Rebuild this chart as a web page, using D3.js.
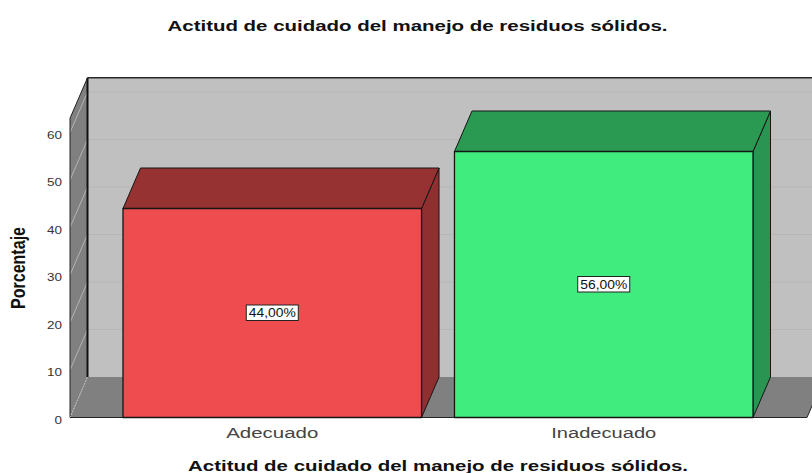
<!DOCTYPE html>
<html><head><meta charset="utf-8">
<script src="https://cdn.jsdelivr.net/npm/d3@7"></script>
<style>html,body{margin:0;padding:0;background:#fff}svg{display:block}text{font-family:"Liberation Sans",Arial,sans-serif}</style>
</head><body><div id="c"></div>
<script>
const chartTitle="Actitud de cuidado del manejo de residuos sólidos.";
const yTitle="Porcentaje";
const categories=["Adecuado","Inadecuado"];
const values=[44,56];
const valueLabels=["44,00%","56,00%"];
const yTicks=[0,10,20,30,40,50,60];
const frontColors=["#ef4c50","#41ec7e"];
const topColors=["#963232","#2a9a53"];
const sideColors=["#8f2f30","#2a9552"];
const W=812,H=473,yMaxAxis=63,dx=17.5,dy=-40.5;
const y=d3.scaleLinear().domain([0,yMaxAxis]).range([417.5,417.5-4.75*yMaxAxis]);
const x=d3.scaleBand().domain(categories).range([123,753]).paddingInner(0.0994);
const x0=70,x1=807;
const svg=d3.select("#c").append("svg").attr("width",W).attr("height",H);
const poly=(pts,fill,stroke,sw)=>svg.append("polygon").attr("points",pts.map(p=>p.join(",")).join(" ")).attr("fill",fill).attr("stroke",stroke||"none").attr("stroke-width",sw||0).attr("stroke-linejoin","round");
const T=y(yMaxAxis),B=y(0);
poly([[x0+dx,T+dy],[x1+dx,T+dy],[x1+dx,B+dy],[x0+dx,B+dy]],"#c0c0c0");
poly([[x0,B],[x0+dx,B+dy],[x1+dx,B+dy],[x1,B]],"#808080");
poly([[x0,B],[x0+dx,B+dy],[x0+dx,T+dy],[x0,T]],"#808080");
yTicks.slice(1).forEach(t=>{
  svg.append("line").attr("x1",x0+dx).attr("x2",x1+dx).attr("y1",y(t)+dy).attr("y2",y(t)+dy).attr("stroke","#b6b6b6").attr("stroke-width",1);
  svg.append("line").attr("x1",x0).attr("x2",x0+dx).attr("y1",y(t)).attr("y2",y(t)+dy).attr("stroke","#b4b4b4").attr("stroke-width",1);
});
svg.append("line").attr("x1",x0+dx).attr("x2",x1+dx).attr("y1",T+dy).attr("y2",T+dy).attr("stroke","#2a2a2a").attr("stroke-width",1.3);
svg.append("line").attr("x1",x0+dx).attr("x2",x0+dx).attr("y1",T+dy).attr("y2",B+dy).attr("stroke","#111").attr("stroke-width",2);
svg.append("line").attr("x1",x0).attr("x2",x0+dx).attr("y1",T).attr("y2",T+dy).attr("stroke","#222").attr("stroke-width",1);
svg.append("line").attr("x1",x0).attr("x2",x0).attr("y1",T).attr("y2",B).attr("stroke","#222").attr("stroke-width",1);
svg.append("line").attr("x1",x0).attr("x2",x0+dx).attr("y1",B).attr("y2",B+dy).attr("stroke","#c8c8c8").attr("stroke-width",1).attr("stroke-dasharray","1.5 1.5");
svg.append("line").attr("x1",x1).attr("x2",x1+dx).attr("y1",B).attr("y2",B+dy).attr("stroke","#222").attr("stroke-width",1);
svg.append("line").attr("x1",x0).attr("x2",x1).attr("y1",B).attr("y2",B).attr("stroke","#222").attr("stroke-width",1.2);
categories.forEach((c,i)=>{
  const a=x(c),b=a+x.bandwidth(),t=y(values[i]);
  poly([[b,B],[b+dx,B+dy],[b+dx,t+dy],[b,t]],sideColors[i],"#151515",1);
  poly([[a,t],[a+dx,t+dy],[b+dx,t+dy],[b,t]],topColors[i],"#151515",1);
  poly([[a,t],[b,t],[b,B],[a,B]],frontColors[i],"#151515",1.3);
  const cx=(a+b)/2,cy=(t+B)/2;
  svg.append("rect").attr("x",cx-26).attr("y",cy-8).attr("width",52).attr("height",15.5).attr("fill","#fff").attr("stroke","#222").attr("stroke-width",1);
  svg.append("text").attr("x",cx).attr("y",cy+4).attr("text-anchor","middle").attr("font-size",12).attr("fill","#111").attr("textLength",47).attr("lengthAdjust","spacingAndGlyphs").text(valueLabels[i]);
  svg.append("text").attr("x",cx).attr("y",438).attr("text-anchor","middle").attr("font-size",15.5).attr("fill","#444").attr("textLength",c==="Adecuado"?92:105).attr("lengthAdjust","spacingAndGlyphs").text(c);
});
const yAxis=d3.axisLeft(y).tickValues(yTicks).tickSize(0).tickPadding(8);
const g=svg.append("g").attr("transform",`translate(${x0},0)`).call(yAxis);
g.select(".domain").remove();
g.selectAll("text").attr("font-size",11).attr("font-family",'"Liberation Sans"').attr("fill","#333").attr("dy","0.5em")
  .attr("textLength",d=>d===0?7.5:15).attr("lengthAdjust","spacingAndGlyphs");
svg.append("text").attr("x",417.5).attr("y",30.5).attr("text-anchor","middle").attr("font-size",14).attr("font-weight","bold").attr("fill","#111").attr("textLength",500).attr("lengthAdjust","spacingAndGlyphs").text(chartTitle);
svg.append("text").attr("x",438).attr("y",470.5).attr("text-anchor","middle").attr("font-size",14.5).attr("font-weight","bold").attr("fill","#111").attr("textLength",500).attr("lengthAdjust","spacingAndGlyphs").text(chartTitle);
svg.append("text").attr("transform","translate(24.5,268) rotate(-90)").attr("text-anchor","middle").attr("font-size",20).attr("font-weight","bold").attr("fill","#111").attr("textLength",82).attr("lengthAdjust","spacingAndGlyphs").text(yTitle);
</script></body></html>
